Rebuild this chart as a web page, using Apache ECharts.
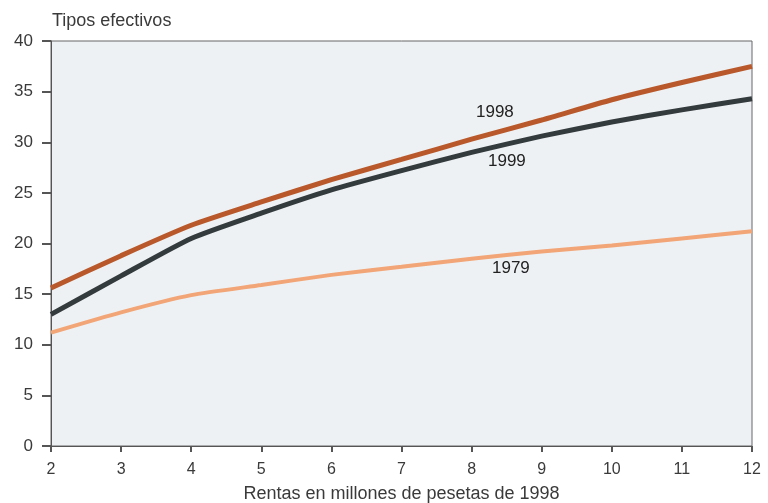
<!DOCTYPE html>
<html>
<head>
<meta charset="utf-8">
<script src="https://cdn.jsdelivr.net/npm/echarts@6/dist/echarts.min.js"></script>
<style>html,body{margin:0;padding:0;background:#fff}#c{width:768px;height:503px}</style>
</head>
<body>
<div id="c"></div>
<script>
var rentas = [2, 3, 4, 5, 6, 7, 8, 9, 10, 11, 12];
var s1998 = [15.6, 18.8, 21.8, 24.1, 26.3, 28.3, 30.3, 32.2, 34.2, 35.9, 37.5];
var s1999 = [13.0, 16.8, 20.5, 23.0, 25.3, 27.2, 29.0, 30.6, 32.0, 33.2, 34.3];
var s1979 = [11.2, 13.2, 14.9, 15.9, 16.9, 17.7, 18.5, 19.2, 19.8, 20.5, 21.2];
var seriesNames = ['1998', '1999', '1979'];
var yTitle = 'Tipos efectivos';
var xTitle = 'Rentas en millones de pesetas de 1998';

function pairs(v) { return rentas.map(function (x, i) { return [x, v[i]]; }); }

var font = 'Liberation Sans, Arial, sans-serif';
var chart = echarts.init(document.getElementById('c'));
chart.setOption({
  animation: false,
  backgroundColor: '#fff',
  grid: { left: 51, right: 16, top: 41, bottom: 57, show: true, outerBoundsMode: 'none', containLabel: false,
    backgroundColor: '#eef1f3', borderColor: '#666', borderWidth: 1 },
  xAxis: {
    type: 'value', min: 2, max: 12, interval: 1,
    name: xTitle, nameLocation: 'middle', nameGap: 39,
    nameTextStyle: { fontFamily: font, fontSize: 18, color: '#3a3a3a' },
    axisLine: { show: true, lineStyle: { color: '#555', width: 1 } },
    axisTick: { show: true, inside: false, length: 6, lineStyle: { color: '#555', width: 2 } },
    axisLabel: { fontFamily: font, fontSize: 16, color: '#3a3a3a', margin: 16 },
    splitLine: { show: false }
  },
  yAxis: {
    type: 'value', min: 0, max: 40, interval: 5,
    axisLine: { show: true, lineStyle: { color: '#555', width: 1 } },
    axisTick: { show: true, length: 9, lineStyle: { color: '#555', width: 2 } },
    axisLabel: { fontFamily: font, fontSize: 17, color: '#3a3a3a', margin: 18 },
    splitLine: { show: false }
  },
  graphic: [
    { type: 'text', left: 52, top: 12, style: { text: yTitle, font: '18px ' + font, fill: '#3a3a3a' } },
    { type: 'text', left: 476, top: 104, style: { text: seriesNames[0], font: '17px ' + font, fill: '#222' } },
    { type: 'text', left: 488, top: 153, style: { text: seriesNames[1], font: '17px ' + font, fill: '#222' } },
    { type: 'text', left: 492, top: 260, style: { text: seriesNames[2], font: '17px ' + font, fill: '#222' } }
  ],
  series: [
    { name: seriesNames[2], type: 'line', data: pairs(s1979), symbol: 'none', smooth: 0.2,
      lineStyle: { color: '#f2a577', width: 4 } },
    { name: seriesNames[1], type: 'line', data: pairs(s1999), symbol: 'none', smooth: 0.2,
      lineStyle: { color: '#343b3d', width: 5 } },
    { name: seriesNames[0], type: 'line', data: pairs(s1998), symbol: 'none', smooth: 0.2,
      lineStyle: { color: '#b9582a', width: 5 } }
  ]
});
</script>
</body>
</html>
